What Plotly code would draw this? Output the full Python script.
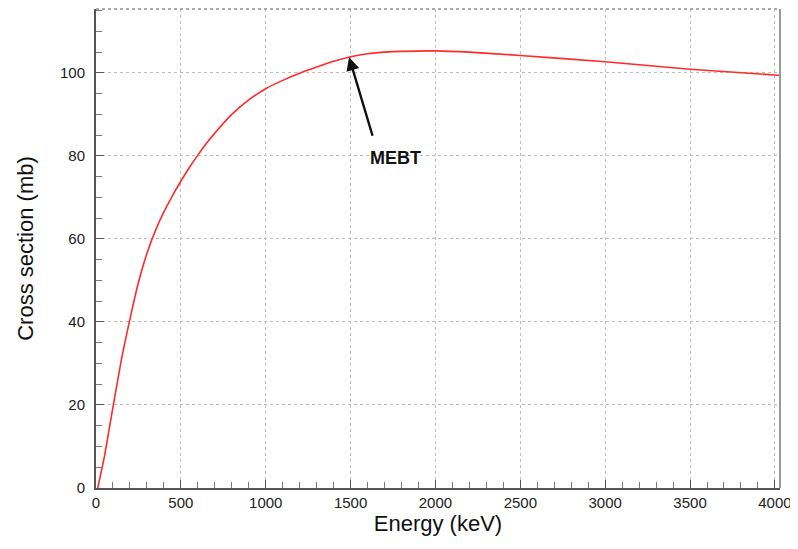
import plotly.graph_objects as go

energy_kev = [10, 50, 100, 150, 200, 250, 300, 350, 400, 450, 500, 550, 600, 650, 700, 800, 900, 1000,
              1100, 1200, 1300, 1400, 1500, 1600, 1700, 1800, 2000, 2200, 2500, 3000, 3500, 4000, 4030]
cross_section_mb = [0, 7.7, 19.5, 31.0, 40.7, 49.5, 56.5, 62.0, 66.5, 70.4, 73.9, 77.2, 80.2, 83.0, 85.5, 90.0, 93.5, 96.2,
                    98.2, 99.9, 101.4, 102.8, 103.9, 104.6, 105.0, 105.2, 105.3, 105.0, 104.2, 102.7, 100.9, 99.5, 99.4]

x_ticks = [0, 500, 1000, 1500, 2000, 2500, 3000, 3500, 4000]
y_ticks = [0, 20, 40, 60, 80, 100]

annot_label = "MEBT"
annot_head = (1491, 103.8)
annot_tail = (1632, 84.5)
annot_text_pos = (1762, 79.4)

FONT = "Liberation Sans, Arial, sans-serif"

fig = go.Figure()
fig.add_trace(go.Scatter(x=energy_kev, y=cross_section_mb, mode="lines",
                         line=dict(color="#ff2a2a", width=1.6, shape="spline", smoothing=0.6),
                         hoverinfo="skip", showlegend=False))

fig.add_annotation(x=annot_head[0], y=annot_head[1], ax=annot_tail[0], ay=annot_tail[1],
                   xref="x", yref="y", axref="x", ayref="y", text="", showarrow=True,
                   arrowhead=2, arrowsize=1.1, arrowwidth=2.4, arrowcolor="#111")
fig.add_annotation(x=annot_text_pos[0], y=annot_text_pos[1], xref="x", yref="y",
                   text="<b>" + annot_label + "</b>", showarrow=False,
                   font=dict(family=FONT, size=18, color="#111"))

axis_common = dict(showline=True, linecolor="#555", linewidth=2, mirror=False,
                   ticks="inside", ticklen=8, tickcolor="#555", tickwidth=1,
                   showgrid=True, gridcolor="#bdbdbd", griddash="dot", gridwidth=1,
                   zeroline=False, automargin=False, ticklabeloverflow="allow",
                   tickfont=dict(family=FONT, size=15, color="#222"),
                   title_font=dict(family=FONT, size=22, color="#111"))

fig.update_xaxes(range=[0, 4030], tickvals=x_ticks, ticktext=[str(v) for v in x_ticks],
                 title_text="Energy (keV)", title_standoff=4,
                 minor=dict(dtick=100, tick0=0, ticks="inside", ticklen=6, tickcolor="#777", showgrid=False),
                 **axis_common)
fig.update_yaxes(range=[0, 115.4], tickvals=y_ticks, ticktext=[str(v) for v in y_ticks],
                 title_text="Cross section (mb)", title_standoff=20, ticklabelstandoff=6,
                 minor=dict(dtick=5, tick0=0, ticks="inside", ticklen=6, tickcolor="#777", showgrid=False),
                 **axis_common)

# top and right frame
fig.add_shape(type="line", xref="paper", yref="paper", x0=0, x1=1, y0=1, y1=1,
              line=dict(color="#aaa", width=2, dash="dot"))
fig.add_shape(type="line", xref="paper", yref="paper", x0=1, x1=1, y0=0, y1=1,
              line=dict(color="#999", width=2))

# page body has an 8px margin: size the figure so the plot area lands where the reference has it
fig.update_layout(width=790, height=533,
                  margin=dict(l=88, r=18, t=1, b=53, autoexpand=False),
                  plot_bgcolor="white", paper_bgcolor="white")

fig.write_html("out.html")
